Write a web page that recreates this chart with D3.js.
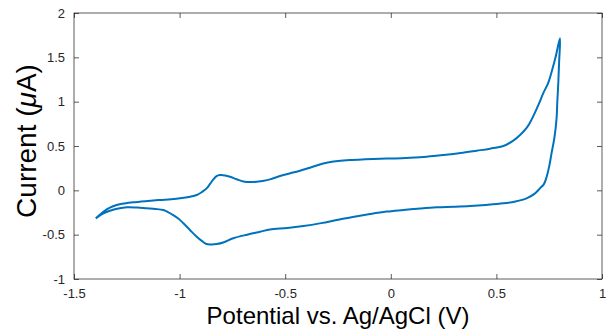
<!DOCTYPE html>
<html><head><meta charset="utf-8">
<script src="https://cdn.jsdelivr.net/npm/d3@7"></script>
<style>body{margin:0;background:#fff}svg{display:block}text{font-family:"Liberation Sans",Arial,Helvetica,sans-serif}</style>
</head><body>
<script>
const forwardV = [-1.397,-1.375,-1.361,-1.33,-1.298,-1.26,-1.219,-1.15,-1.093,-1.04,-0.998,-0.95,-0.919,-0.895,-0.872,-0.855,-0.84,-0.825,-0.809,-0.785,-0.761,-0.73,-0.698,-0.665,-0.635,-0.6,-0.572,-0.525,-0.477,-0.43,-0.383,-0.34,-0.304,-0.25,-0.193,-0.12,-0.051,0.02,0.091,0.17,0.249,0.33,0.407,0.47,0.533,0.58,0.612,0.645,0.667,0.7,0.722,0.745,0.762,0.78,0.801];
const forwardI = [-0.316,-0.27,-0.241,-0.195,-0.166,-0.148,-0.135,-0.12,-0.109,-0.1,-0.09,-0.072,-0.053,-0.02,0.022,0.075,0.124,0.16,0.172,0.168,0.153,0.125,0.1,0.093,0.097,0.108,0.124,0.161,0.192,0.22,0.255,0.288,0.31,0.33,0.342,0.35,0.356,0.36,0.368,0.38,0.398,0.42,0.447,0.47,0.5,0.56,0.624,0.71,0.8,0.97,1.096,1.21,1.34,1.5,1.715];
const reverseV = [0.801,0.797,0.793,0.788,0.785,0.775,0.761,0.75,0.738,0.725,0.706,0.68,0.643,0.59,0.533,0.45,0.375,0.3,0.217,0.14,0.059,-0.02,-0.098,-0.18,-0.256,-0.33,-0.414,-0.49,-0.572,-0.619,-0.68,-0.746,-0.79,-0.824,-0.85,-0.872,-0.895,-0.919,-0.95,-0.982,-1.005,-1.03,-1.055,-1.077,-1.115,-1.156,-1.2,-1.25,-1.29,-1.33,-1.365,-1.397];
const reverseI = [1.715,1.45,1.21,0.98,0.814,0.6,0.417,0.27,0.153,0.07,0.022,-0.04,-0.09,-0.125,-0.147,-0.165,-0.177,-0.185,-0.192,-0.205,-0.222,-0.24,-0.267,-0.3,-0.335,-0.37,-0.403,-0.425,-0.441,-0.467,-0.5,-0.541,-0.585,-0.606,-0.61,-0.606,-0.57,-0.523,-0.45,-0.372,-0.32,-0.279,-0.245,-0.222,-0.21,-0.203,-0.195,-0.192,-0.205,-0.23,-0.265,-0.316];
const xTicks = [-1.5,-1,-0.5,0,0.5,1];
const yTicks = [-1,-0.5,0,0.5,1,1.5,2];

const W=610,H=335, L=74,R=602,T=13,B=279;
const axisColor="#262626";
const svg=d3.select("body").append("svg").attr("width",W).attr("height",H);
const x=d3.scaleLinear().domain([-1.5,1]).range([L,R]);
const y=d3.scaleLinear().domain([-1,2]).range([B,T]);
const fmt=d=>String(d);

function styleAxis(g){
  g.select(".domain").remove();
  g.selectAll(".tick line").attr("stroke",axisColor).attr("stroke-width",0.75);
  g.selectAll(".tick text").attr("fill",axisColor).style("font-size","13px");
}
svg.append("g").attr("transform",`translate(0,${B})`).call(d3.axisBottom(x).tickValues(xTicks).tickFormat(fmt).tickSizeInner(-5).tickSizeOuter(0).tickPadding(10)).call(styleAxis);
svg.append("g").attr("transform",`translate(0,${T})`).call(d3.axisTop(x).tickValues(xTicks).tickFormat("").tickSizeInner(-5).tickSizeOuter(0)).call(styleAxis);
svg.append("g").attr("transform",`translate(${L},0)`).call(d3.axisLeft(y).tickValues(yTicks).tickFormat(fmt).tickSizeInner(-5).tickSizeOuter(0).tickPadding(9)).call(styleAxis);
svg.append("g").attr("transform",`translate(${R},0)`).call(d3.axisRight(y).tickValues(yTicks).tickFormat("").tickSizeInner(-5).tickSizeOuter(0)).call(styleAxis);
svg.append("rect").attr("x",L).attr("y",T).attr("width",R-L).attr("height",B-T).attr("fill","none").attr("stroke",axisColor).attr("stroke-width",0.75);

const pts=forwardV.map((v,i)=>[v,forwardI[i]]).concat(reverseV.slice(1).map((v,i)=>[v,reverseI[i+1]]));
const line=d3.line().x(d=>x(d[0])).y(d=>y(d[1])).curve(d3.curveCatmullRom.alpha(0.5));
svg.append("path").datum(pts).attr("d",line).attr("fill","none").attr("stroke","#0072BD").attr("stroke-width",2).attr("stroke-linejoin","round");

svg.append("text").attr("x",(L+R)/2).attr("y",324).attr("text-anchor","middle").style("font-size","24px").attr("fill","#000").text("Potential vs. Ag/AgCl (V)");
const yl=svg.append("text").attr("transform",`translate(36,141) rotate(-90)`).attr("text-anchor","middle").style("font-size","28px").attr("fill","#000");
yl.append("tspan").text("Current (");
yl.append("tspan").style("font-style","italic").text("\u03bc");
yl.append("tspan").text("A)");
</script>
</body></html>
